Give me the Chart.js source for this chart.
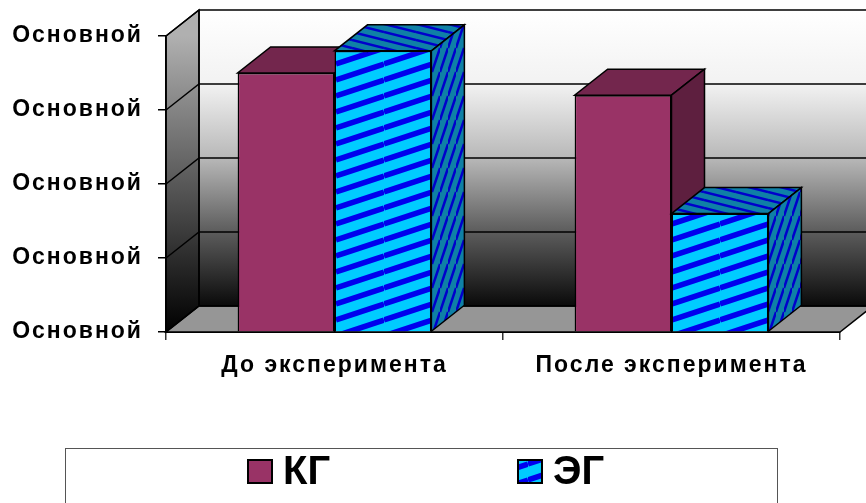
<!DOCTYPE html>
<html>
<head>
<meta charset="utf-8">
<title>КГ и ЭГ</title>
<script src="https://cdn.jsdelivr.net/npm/chart.js"></script>
<style>
  html, body { margin: 0; padding: 0; background: #fff; }
</style>
</head>
<body>
<canvas id="grafico" width="866" height="503"></canvas>

<script>
// datos del gráfico
const categorias = ['До эксперимента', 'После эксперимента'];
const grupos = ['КГ', 'ЭГ'];
const valoresKG = [3.5, 3.2];
const valoresEG = [3.8, 1.6];
const etiquetasY = ['Основной', 'Основной', 'Основной', 'Основной', 'Основной'];

// profundidad del efecto 3D
const DX = 33, DY = -26;

// tramas de las barras ЭГ
function trama(w, h, fondo, raya, grosor, lineas) {
    const c = document.createElement('canvas');
    c.width = w; c.height = h;
    const g = c.getContext('2d');
    g.fillStyle = fondo;
    g.fillRect(0, 0, w, h);
    g.strokeStyle = raya;
    g.lineWidth = grosor;
    lineas.forEach(l => {
        g.beginPath();
        g.moveTo(l[0], l[1]);
        g.lineTo(l[2], l[3]);
        g.stroke();
    });
    return g.createPattern(c, 'repeat');
}
const ctx0 = document.getElementById('grafico').getContext('2d');
const tramaFrente = trama(48, 16, '#00ccff', '#0000ee', 5.5,
    [[0, 0, 48, -16], [0, 16, 48, 0], [0, 32, 48, 16]]);
const tramaLado = trama(8, 24, '#0f80a6', '#0000cc', 2.5,
    [[0, 0, 8, -24], [0, 24, 8, 0], [0, 48, 8, 24]]);
const tramaArriba = trama(32, 8, '#0f80a6', '#0000cc', 2.5,
    [[0, -8, 32, 0], [0, 0, 32, 8], [0, 8, 32, 16]]);

function poligono(ctx, pts, relleno) {
    ctx.beginPath();
    ctx.moveTo(pts[0][0], pts[0][1]);
    for (let i = 1; i < pts.length; i++) ctx.lineTo(pts[i][0], pts[i][1]);
    ctx.closePath();
    ctx.fillStyle = relleno;
    ctx.fill();
    ctx.stroke();
}

// paredes, piso y líneas de la cuadrícula
const fondo3D = {
    id: 'fondo3D',
    beforeDraw(chart) {
        // el texto original es más ancho
        chart.ctx.letterSpacing = '2px';
    },
    beforeDatasetsDraw(chart) {
        const { ctx, chartArea: a, scales: { y } } = chart;
        ctx.save();
        ctx.strokeStyle = '#000';
        ctx.lineWidth = 1.5;

        const gb = ctx.createLinearGradient(0, a.top + DY, 0, a.bottom + DY);
        gb.addColorStop(0, '#ffffff');
        gb.addColorStop(0.25, '#f2f2f2');
        gb.addColorStop(0.5, '#b8b8b8');
        gb.addColorStop(0.75, '#5c5c5c');
        gb.addColorStop(1, '#0a0a0a');
        ctx.fillStyle = gb;
        ctx.fillRect(a.left + DX, a.top + DY, a.right - a.left + 40, a.bottom - a.top);

        const gi = ctx.createLinearGradient(0, a.top, 0, a.bottom);
        gi.addColorStop(0, '#b0b0b0');
        gi.addColorStop(1, '#000000');
        poligono(ctx, [[a.left, a.bottom], [a.left, a.top], [a.left + DX, a.top + DY], [a.left + DX, a.bottom + DY]], gi);

        poligono(ctx, [[a.left, a.bottom], [a.left + DX, a.bottom + DY], [a.right + DX, a.bottom + DY], [a.right, a.bottom]], '#969696');

        y.ticks.forEach(t => {
            const py = y.getPixelForValue(t.value);
            ctx.beginPath();
            ctx.moveTo(a.left, py);
            ctx.lineTo(a.left + DX, py + DY);
            ctx.lineTo(a.right + DX + 40, py + DY);
            ctx.stroke();
        });
        ctx.beginPath();
        ctx.moveTo(a.left + DX, a.top + DY);
        ctx.lineTo(a.left + DX, a.bottom + DY);
        ctx.moveTo(a.left, a.top);
        ctx.lineTo(a.left, a.bottom);
        ctx.stroke();
        ctx.restore();
    },
    // caras superior y lateral; la serie de la derecha se vuelve a pintar encima
    afterDatasetsDraw(chart) {
        const ctx = chart.ctx;
        ctx.save();
        chart.data.datasets.forEach((ds, i) => {
            chart.getDatasetMeta(i).data.forEach(bar => {
                if (i > 0) bar.draw(ctx);
                const { x, y, base, width } = bar.getProps(['x', 'y', 'base', 'width'], true);
                const l = x - width / 2, r = x + width / 2;
                ctx.strokeStyle = '#000';
                ctx.lineWidth = 1.5;
                poligono(ctx, [[l, y], [r, y], [r + DX, y + DY], [l + DX, y + DY]], ds.caraSuperior);
                poligono(ctx, [[r, y], [r + DX, y + DY], [r + DX, base + DY], [r, base]], ds.caraLateral);
            });
        });
        ctx.restore();
    },
    // leyenda con marco
    afterDraw(chart) {
        const ctx = chart.ctx;
        ctx.save();
        ctx.letterSpacing = '0px';
        ctx.strokeStyle = '#555';
        ctx.lineWidth = 1;
        ctx.strokeRect(65.5, 448.5, 712, 80);
        ctx.font = 'bold 40px "Liberation Sans", Arial, sans-serif';
        ctx.textBaseline = 'middle';
        chart.data.datasets.forEach((ds, i) => {
            const x0 = 248 + i * 270;
            ctx.fillStyle = ds.backgroundColor;
            ctx.fillRect(x0, 460, 24, 23);
            ctx.lineWidth = 2;
            ctx.strokeStyle = '#000';
            ctx.strokeRect(x0, 460, 24, 23);
            ctx.fillStyle = '#000';
            ctx.fillText(ds.label, x0 + 35, 473);
        });
        ctx.restore();
    }
};

const fuente = { family: '"Liberation Sans", Arial, sans-serif', size: 23, weight: 'bold' };

const configuracion = {
    type: 'bar',
    data: {
        labels: categorias,
        datasets: [{
            label: grupos[0],
            data: valoresKG,
            backgroundColor: '#993366',
            caraSuperior: '#73264d',
            caraLateral: '#5e1f3f',
            borderColor: '#000',
            borderWidth: 1.5
        }, {
            label: grupos[1],
            data: valoresEG,
            backgroundColor: tramaFrente,
            caraSuperior: tramaArriba,
            caraLateral: tramaLado,
            borderColor: '#000',
            borderWidth: 1.5
        }]
    },
    options: {
        responsive: false,
        animation: false,
        categoryPercentage: 0.575,
        barPercentage: 1.0,
        layout: { padding: { left: 2, right: 26, top: 36, bottom: 111 } },
        plugins: {
            legend: { display: false },
            tooltip: { enabled: false }
        },
        scales: {
            x: {
                afterFit: s => { s.height = 60; },
                grid: { drawOnChartArea: false, tickLength: 8, color: '#333', lineWidth: 1.5 },
                border: { display: true, color: '#000', width: 2 },
                ticks: { color: '#000', font: fuente, padding: 12 }
            },
            y: {
                min: 0,
                max: 4,
                afterFit: s => { s.width = 164; },
                grid: { drawOnChartArea: false, tickLength: 8, color: '#000', lineWidth: 1.5 },
                border: { display: true, color: '#000', width: 1.5 },
                ticks: {
                    stepSize: 1,
                    color: '#000',
                    font: fuente,
                    padding: 15,
                    callback: (v, i) => etiquetasY[i]
                }
            }
        }
    },
    plugins: [fondo3D]
};

new Chart(ctx0, configuracion);
</script>
</body>
</html>
